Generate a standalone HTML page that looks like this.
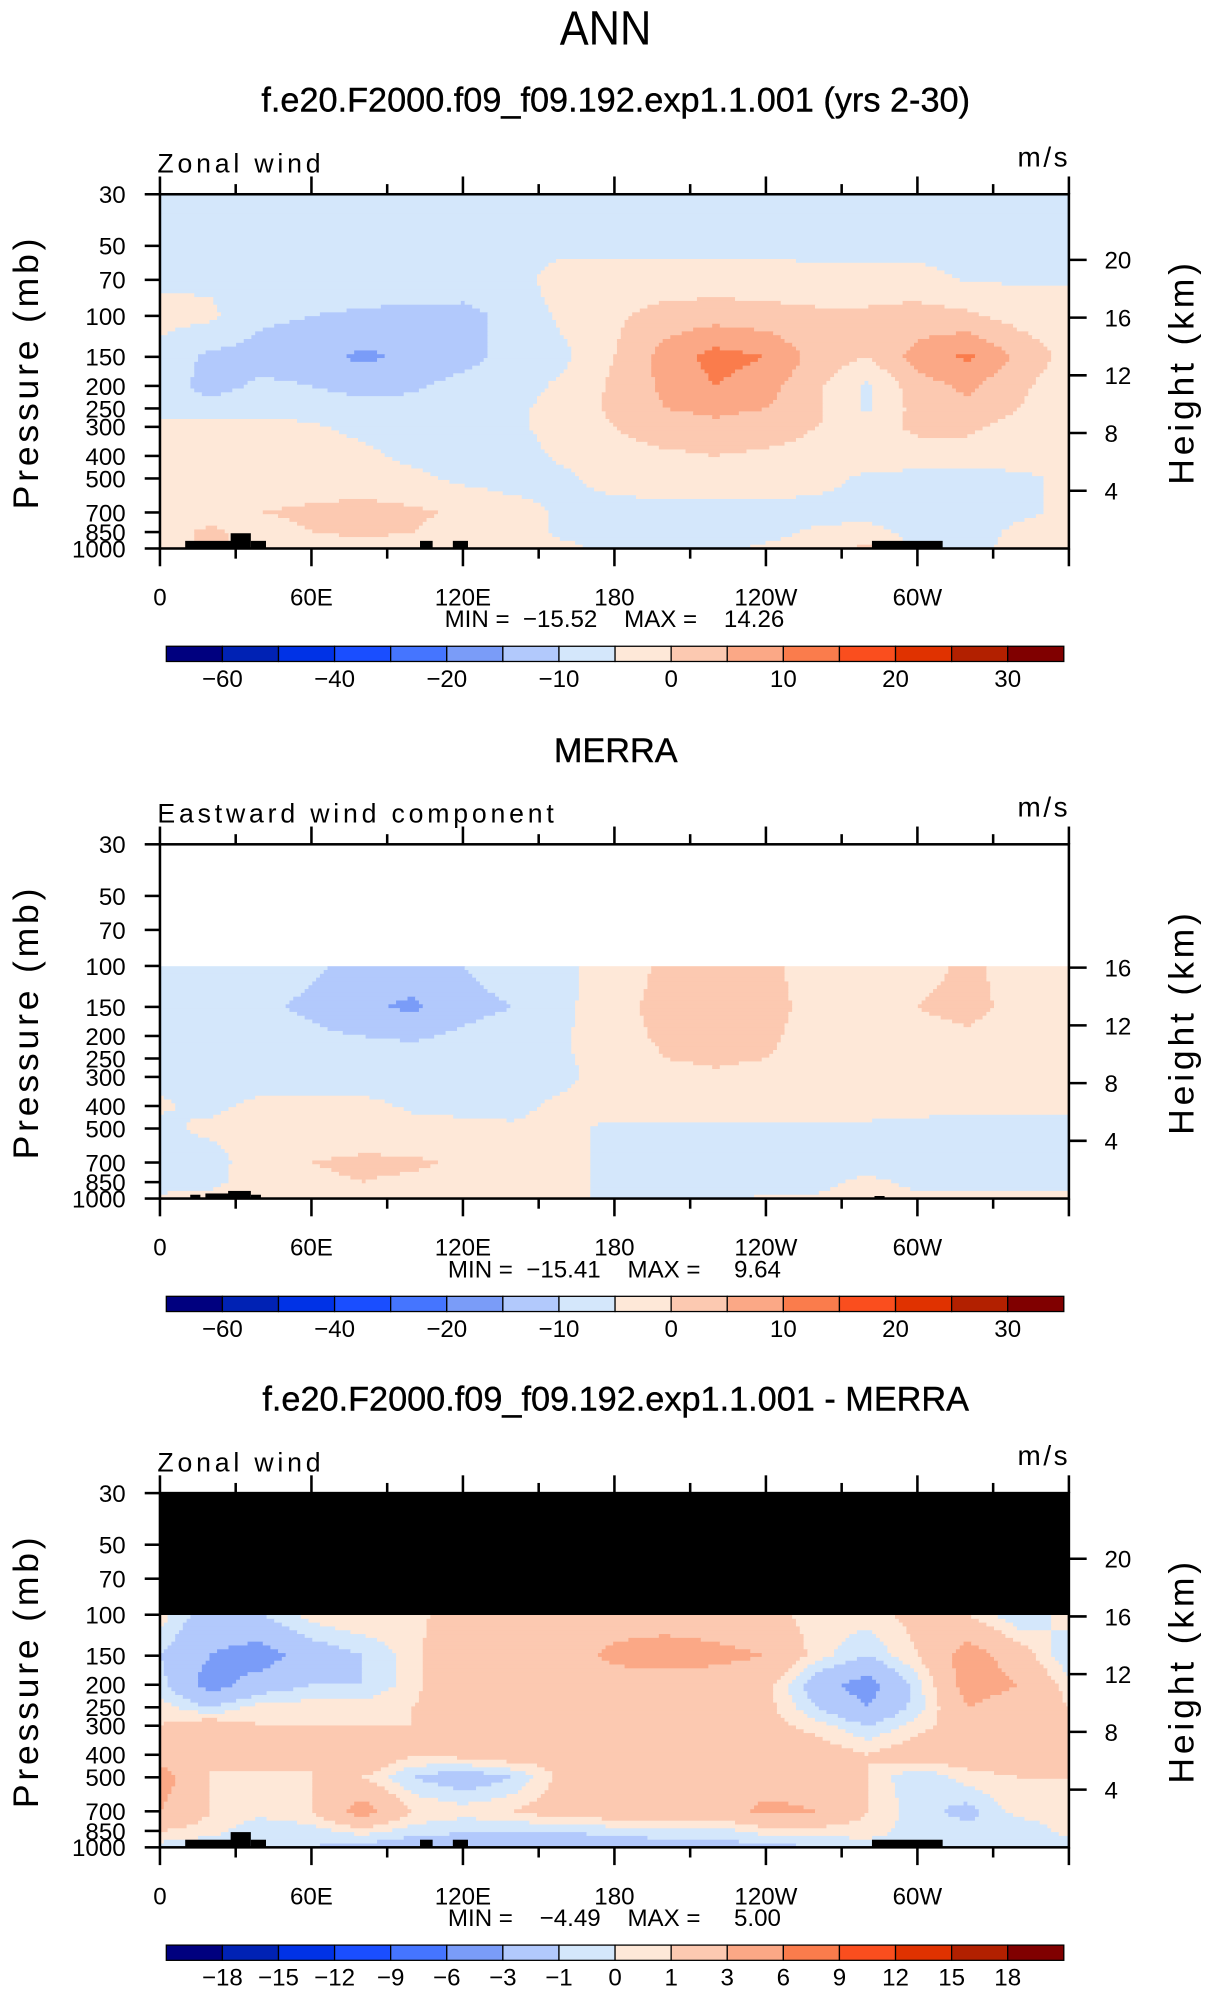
<!DOCTYPE html>
<html><head><meta charset="utf-8"><style>
html,body{margin:0;padding:0;background:#fff}
svg text{font-family:"Liberation Sans",sans-serif;fill:#000}
</style></head><body>
<svg id="root" xmlns="http://www.w3.org/2000/svg" width="1206" height="1987" viewBox="0 0 950 1565" preserveAspectRatio="none">
<rect width="950" height="1565" fill="#fff"/>
<text x="477" y="35" font-size="38" text-anchor="middle" transform="translate(477 0) scale(0.9 1) translate(-477 0)">ANN</text>
</svg>
<script>
const lons=[0,20,40,60,80,100,120,140,160,180,200,220,240,260,280,300,320,340,360];
const plevs=[30,50,70,100,150,200,250,300,400,500,700,850,1000];
const colors=["#00007f","#0022b4","#0032e6","#1a4eff","#4575ff","#7a9cf8","#b2c9fc","#d4e7fb","#fee8d8","#fcc9b1","#fba886","#fa7c4c","#fa4e1e","#e03200","#b22000","#800000"];
const levelsMain=[-60,-50,-40,-30,-20,-15,-10,-5,0,5,10,15,20,25,30];
const levelsDiff=[-18,-15,-12,-9,-6,-3,-1,0,1,3,6,9,12,15,18];
const xTickLabels=["0","60E","120E","180","120W","60W"];
const hTicksModel=[20,16,12,8,4];
const hTicksMerra=[16,12,8,4];
const fieldModel=[
[-8,-8,-8,-8,-8,-8,-8,-8,-8,-8,-8,-8,-8,-8,-8,-8,-8,-8,-8],
[-7,-7,-7,-7,-7,-7,-7,-7,-6,-6,-6,-6,-6,-7,-7,-7,-7,-7,-7],
[-6,-6,-6,-6,-6,-6,-6.5,-6.5,-3,-3,-3,-3,-3,-3,-3,-3,-5.5,-5.5,-5.5],
[-3,-4,-9,-10,-11,-12,-12,-8,-4,-1,2,3,2,1,1,2,1,-2,-3],
[-7,-11,-12,-13,-16,-14,-12,-8,-6,0,7,12,10,3,0,7,11,4,-2],
[-7,-12,-9,-10,-12,-11,-8,-7,-4,1,6,10,7,1,-6,3,6,1,-3],
[-7,-8,-7,-7,-8,-8,-7,-6,-3,1,5,6,5,1,-6,2,4,0,-3],
[-4,-3.5,-3,-4.5,-6,-7,-7,-6,-3,0,3,4,3,0,-2,1,1,-2,-3],
[-3,-3,-3,-3,-4,-6,-7,-7,-4,-2,-1,0,-1,-2,-2,-2,-2,-3,-3],
[-3,-3,-3,-3,-3,-4,-6,-7,-6,-3,-2,-2,-2,-3,-6,-7,-7,-6,-4],
[-4,-2,0,1,2,1,-1,-3,-6,-7,-7,-7,-7,-7,-7,-7,-7,-6,-4],
[-2,1,-2,0,1,0,-2,-3,-6,-7,-10,-8,-7,-4,-3,-7,-7,-4,-2],
[-3,1,-1,-3,-2,-2,-3,-4,-4,-6,-7,-6,-4,-2,1,-6,-6,-4,-3]];
const fieldMerra=[
null,null,null,
[-7,-7,-8,-9,-12,-12,-10,-7,-6,-3,1,3,1,-2,-2,-2,1,-2,-3],
[-7,-8,-9,-11,-14,-16,-12,-10,-6,-2,2,4,2,-2,-3,0,2,-2,-3],
[-7,-7,-8,-9,-10,-11,-9,-7,-5.5,-2,1,3,1,-2,-3,-2,-1,-3,-4],
[-7,-7,-7,-7,-7,-7,-7,-7,-5.5,-3,0,1,0,-2,-3,-3,-3,-4,-4.5],
[-6,-6.5,-7,-7,-7,-7,-7,-7,-6,-3,-2,-1,-2,-3,-3,-4,-4,-4.5,-4.5],
[-4.5,-6,-4,-4,-4,-5.5,-6,-6,-4,-3,-3,-3,-3,-3,-4,-4,-4.5,-4.5,-4.5],
[-6,-4,-3,-3,-3,-4,-4,-4.5,-4,-6,-6,-6,-6,-6,-5.5,-6,-6,-6,-6],
[-7,-7,-2,0,1,1,-1,-3,-4,-6,-7,-7,-7,-7,-7,-7,-7,-7,-7],
[-7,-6,-3,-1,0,-1,-2,-3,-4,-6,-6,-6,-6,-6,-4,-6,-6,-6,-6],
[-4,-4,-3,-3,-3,-3,-3,-3,-4,-6,-6,-6,-4.5,-4.5,-4,-4,-4,-4,-4]];
const fieldDiff=[
null,null,null,
[0.5,-2,-1,0.5,1,0.5,2,1.5,2,2,2,2,1.5,0.5,0.5,1.5,1,-1,0.5],
[-1,-3,-4,-2,-1,0.5,3,2,2,3.5,4,3.5,3,0.5,-1,1,4,2,-1],
[-0.5,-4,-2,-1,-1,0.5,3,2,2,2,2,2,1.5,-2,-4,-0.5,4,3,0.5],
[0.5,-1,0.5,0.5,0.5,1,2,2,1.5,2,2,2,1.5,-1,-3,-0.5,3,2,1],
[1,2,1,1,1,1,1.5,2,1.5,2,2,2,1.5,0.5,-1,0.5,2,1.5,1],
[2,1,2.5,1,3,1,1.5,2,1.5,2,2,2,2,2,1,2,2,2,2],
[4,1,0.5,1,1,-1,-2,-1,1.5,2,2,2,2,2,1,-1,0.5,1,1],
[3,1,0.5,1,4,1,0.5,1,2,2,2,2,3.5,3,1,-0.5,-1.5,0.5,0.5],
[1,0.5,-1,-0.5,0.5,-0.5,-1,-1,-1,-0.5,-0.5,-0.5,0.5,0.5,0.5,-0.5,-0.5,-1,0.5],
[-0.5,-1,-1,-1,-1.5,-2,-1.5,-1.5,-2,-2,-1.5,-1.5,-1.5,-1,-0.5,-0.5,-0.5,-1,-1]];
const topoModel=[[10,30,6],[28,36,12],[36,42,6],[103,108,6],[116,122,6],[282,310,6]];
const topoMerra=[[12,16,3],[18,30,4],[27,36,6],[36,40,3],[283,287,2]];

const NS="http://www.w3.org/2000/svg";
const root=document.getElementById('root');
const X0=126,X1=842,PH=279;
function el(tag,attrs,parent){const e=document.createElementNS(NS,tag);for(const k in attrs)e.setAttribute(k,attrs[k]);(parent||root).appendChild(e);return e;}
function txt(s,attrs,parent){const e=el('text',attrs,parent);e.textContent=s;return e;}
function xScale(lon){return X0+(lon/360)*(X1-X0);}
function yScale(p,top){return top+Math.log(p/30)/Math.log(1000/30)*PH;}
function pFromY(y,top){return 30*Math.exp((y-top)/PH*Math.log(1000/30));}
function colorFor(v,lv){let i=0;while(i<lv.length&&v>=lv[i])i++;return colors[i];}
function sample(field,lon,p){
  const lp=Math.log(p);let j=0;
  while(j<plevs.length-2&&Math.log(plevs[j+1])<lp)j++;
  const t=Math.max(0,Math.min(1,(lp-Math.log(plevs[j]))/(Math.log(plevs[j+1])-Math.log(plevs[j]))));
  let i=Math.max(0,Math.min(Math.floor(lon/20),lons.length-2));const s=Math.max(0,Math.min(1,(lon-lons[i])/20));
  const r0=field[j],r1=field[j+1];
  if(!r0&&!r1)return null;
  if(!r0)return t>0.98?r1[i]*(1-s)+r1[i+1]*s:null;
  const a=r0[i]*(1-s)+r0[i+1]*s;
  const b=r1?r1[i]*(1-s)+r1[i+1]*s:a;
  return a*(1-t)+b*t;
}
function panel(cfg){
  const g=el('g',{});
  
  
  const top=cfg.top;
  const t=txt(cfg.title,{x:485,y:top-65,'font-size':27,'text-anchor':'middle',stroke:'#000','stroke-width':0.3},g);
  
  const l=txt(cfg.left,{x:124,y:top-17,'font-size':21,'letter-spacing':'3'},g);
  
  const u=txt('m/s',{x:843,y:top-22,'font-size':22,'text-anchor':'end','letter-spacing':'2'},g);
  
  const fg=el('g',{},g);
  
  const step=3;
  for(let y=top;y<top+PH;y+=step){
    const p=pFromY(y+step/2,top);
    const h=Math.min(step,top+PH-y)+0.6;
    let runStart=X0,runCol=null;
    for(let x=X0;;x+=step){
      let c;
      if(x>=X1)c='__end';
      else{const v=sample(cfg.field,(Math.min(x+step/2,X1)-X0)/(X1-X0)*360,p);c=v===null?cfg.nullColor:colorFor(v,cfg.levels);}
      if(c!==runCol){
        if(runCol!==null&&runCol!=='none'){
          const r=el('rect',{x:runStart,y:y,width:Math.min(x,X1)-runStart+0.6,height:h,fill:runCol},fg);
          
        }
        runStart=x;runCol=c;
      }
      if(x>=X1)break;
    }
  }
  cfg.topo.forEach(tp=>{
    const r=el('rect',{x:xScale(tp[0]),y:top+PH-tp[2],width:xScale(tp[1])-xScale(tp[0]),height:tp[2],fill:'#000'},g);
    
  });
  const fr=el('rect',{x:X0,y:top,width:X1-X0,height:PH,fill:'none',stroke:'#000','stroke-width':2},g);
  
  for(let lon=0;lon<=360;lon+=30){
    const major=lon%60===0;const x=xScale(lon);const len=major?14:8;
    el('line',{x1:x,y1:top,x2:x,y2:top-len,stroke:'#000','stroke-width':2},g);
    el('line',{x1:x,y1:top+PH,x2:x,y2:top+PH+len,stroke:'#000','stroke-width':2},g);
  }
  xTickLabels.forEach((s,i)=>{
    const e=txt(s,{x:xScale(i*60),y:top+PH+45,'font-size':19,'text-anchor':'middle'},g);
    
  });
  plevs.forEach(p=>{
    const y=yScale(p,top);
    el('line',{x1:X0,y1:y,x2:X0-12,y2:y,stroke:'#000','stroke-width':2},g);
    const e=txt(String(p),{x:99,y:y+7,'font-size':19,'text-anchor':'end'},g);
    
  });
  cfg.hTicks.forEach(h=>{
    const p=1000*Math.exp(-h/7);const y=yScale(p,top);
    el('line',{x1:X1,y1:y,x2:X1+14,y2:y,stroke:'#000','stroke-width':2},g);
    const e=txt(String(h),{x:870,y:y+7,'font-size':19},g);
    
  });
  const yl=txt('Pressure  (mb)',{x:0,y:0,'font-size':28,'text-anchor':'middle','letter-spacing':'3',transform:`translate(30 ${top+140}) rotate(-90)`},g);
  
  const yr=txt('Height  (km)',{x:0,y:0,'font-size':28,'text-anchor':'middle','letter-spacing':'3',transform:`translate(940 ${top+140}) rotate(-90)`},g);
  
  const mm=txt(cfg.minmax,{x:484,y:top+PH+62,'font-size':19,'text-anchor':'middle',style:'white-space:pre'},g);
  
  const cb=el('g',{},g);
  
  const cx0=131,cw=(838-131)/16,cy=top+PH+77;
  colors.forEach((c,i)=>{
    const r=el('rect',{x:cx0+i*cw,y:cy,width:cw,height:12,fill:c,stroke:'#000','stroke-width':1},cb);
    
  });
  cfg.levels.forEach((v,i)=>{
    if(!cfg.labelAll&&i%2===1)return;
    const s=String(v).replace('-','\u2212');
    const e=txt(s,{x:cx0+(i+1)*cw,y:cy+32,'font-size':19,'text-anchor':'middle'},cb);
    
  });
}
panel({name:'model-panel',title:'f.e20.F2000.f09_f09.192.exp1.1.001 (yrs 2-30)',left:'Zonal wind',top:153,field:fieldModel,levels:levelsMain,nullColor:'none',topo:topoModel,hTicks:hTicksModel,minmax:'MIN =  \u221215.52    MAX =    14.26',labelAll:false});
panel({name:'merra-panel',title:'MERRA',left:'Eastward wind component',top:665,field:fieldMerra,levels:levelsMain,nullColor:'none',topo:topoMerra,hTicks:hTicksMerra,minmax:'MIN =  \u221215.41    MAX =     9.64',labelAll:false});
panel({name:'difference-panel',title:'f.e20.F2000.f09_f09.192.exp1.1.001 - MERRA',left:'Zonal wind',top:1176,field:fieldDiff,levels:levelsDiff,nullColor:'#000',topo:topoModel,hTicks:hTicksModel,minmax:'MIN =    \u22124.49    MAX =     5.00',labelAll:true});
</script>
</body></html>
